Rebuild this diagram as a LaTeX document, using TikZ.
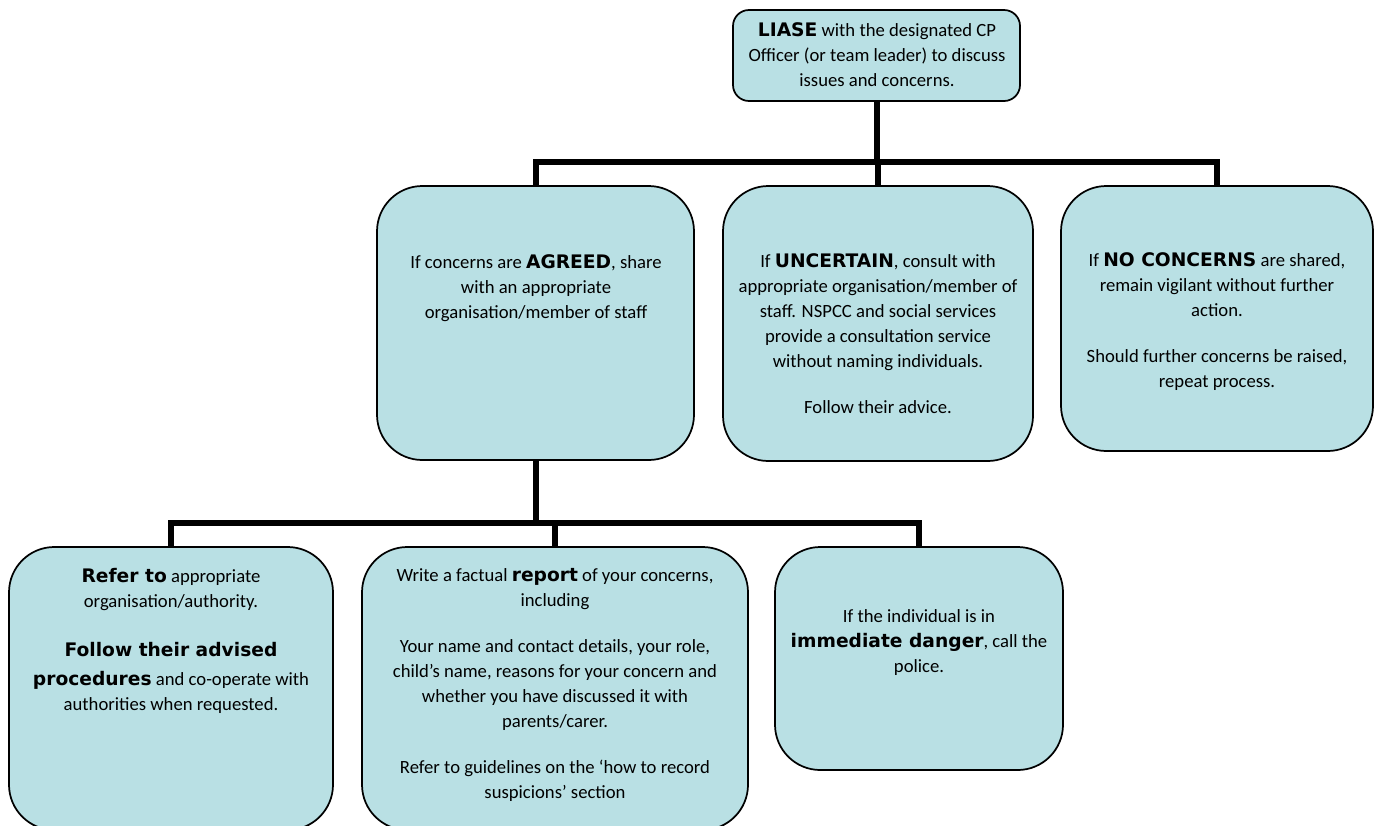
\documentclass[tikz,border=0pt]{standalone}
\usepackage{fontspec}
\setmainfont{Carlito}
\newfontfamily\blkfont{DejaVu Sans}
\newcommand{\heavyword}[1]{{\blkfont\bfseries #1}}
\definecolor{boxfill}{RGB}{185,224,228}
\begin{document}
\begin{tikzpicture}[x=0.75pt,y=-0.75pt,
  box/.style={draw=black, line width=1.3pt, fill=boxfill, rounded corners=34pt, inner sep=0pt},
  topbox/.style={box, rounded corners=12pt},
  txt/.style={align=center, inner sep=0pt, font=\fontsize{14}{18.75}\selectfont},
  conn/.style={line width=4.5pt, line join=miter}]
\useasboundingbox (0,0) rectangle (1380,825);
\clip (0,0) rectangle (1380,825);
% boxes
\node[topbox, minimum width=215.25pt, minimum height=68.25pt] (T) at (876.5,55.5) {};
\node[box, minimum width=237.75pt, minimum height=205.5pt] (A) at (535.5,323) {};
\node[box, minimum width=232.5pt, minimum height=206.25pt] (B) at (878,323.5) {};
\node[box, minimum width=234pt, minimum height=198.75pt] (C) at (1217,318.5) {};
\node[box, minimum width=243pt, minimum height=212.25pt] (D) at (171,688.5) {};
\node[box, minimum width=289.5pt, minimum height=212.25pt] (E) at (555,688.5) {};
\node[box, minimum width=216pt, minimum height=167.25pt] (F) at (919,658.5) {};
% junction levels
\coordinate (bar1) at (0,162);
\coordinate (bar2) at (0,523);
% connectors
\draw[conn] (T.south) -- (T.south |- bar1);
\draw[conn] (A.north) -- (A.north |- bar1) -| (C.north);
\draw[conn] (B.north) -- (B.north |- bar1);
\draw[conn] (A.south) -- (A.south |- bar2);
\draw[conn] (D.north) -- (D.north |- bar2) -| (F.north);
\draw[conn] (E.north) -- (E.north |- bar2);
% texts
\node[txt] (Tt) at (877,55) {\heavyword{LIASE} with the designated CP\\Officer (or team leader) to discuss\\issues and concerns.};
\node[txt] (At) at (536,288) {If concerns are \heavyword{AGREED}, share\\with an appropriate\\organisation/member of staff};
\node[txt] (Bt) at (878,334) {If \heavyword{UNCERTAIN}, consult with\\appropriate organisation/member of\\staff. NSPCC and social services\\provide a consultation service\\without naming individuals.\\[15.75pt]Follow their advice.};
\node[txt] (Ct) at (1217,322) {If \heavyword{NO CONCERNS} are shared,\\remain vigilant without further\\action.\\[15.75pt]Should further concerns be raised,\\repeat process.};
\node[txt] (Dt) at (171,641) {\heavyword{Refer to} appropriate\\organisation/authority.\\[18pt]\heavyword{Follow their advised}\\[3pt]\heavyword{procedures} and co-operate with\\authorities when requested.};
\node[txt] (Et) at (555,685) {Write a factual \heavyword{report} of your concerns,\\including\\[15.75pt]Your name and contact details, your role,\\child’s name, reasons for your concern and\\whether you have discussed it with\\parents/carer.\\[15.75pt]Refer to guidelines on the ‘how to record\\suspicions’ section};
\node[txt] (Ft) at (919,643) {If the individual is in\\\heavyword{immediate danger}, call the\\police.};
\end{tikzpicture}
\end{document}
